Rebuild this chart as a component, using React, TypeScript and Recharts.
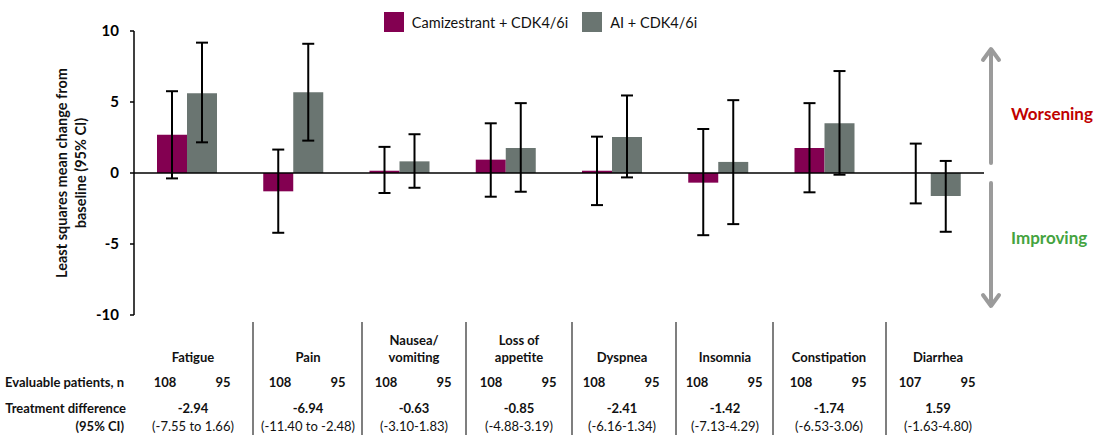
import React from "react";
import { BarChart, Bar, XAxis, YAxis, ErrorBar, ReferenceLine, Legend } from "recharts";

// symptom categories (EORTC QLQ-C30 symptom scales)
const categories = ["Fatigue", "Pain", "Nausea/vomiting", "Loss of appetite", "Dyspnea", "Insomnia", "Constipation", "Diarrhea"];
const categoryLines = [["Fatigue"], ["Pain"], ["Nausea/", "vomiting"], ["Loss of", "appetite"], ["Dyspnea"], ["Insomnia"], ["Constipation"], ["Diarrhea"]];

// Camizestrant + CDK4/6i
const camiMean = [2.7, -1.29, 0.16, 0.94, 0.16, -0.68, 1.76, 0.01];
const camiLow = [-0.38, -4.21, -1.41, -1.67, -2.26, -4.38, -1.36, -2.14];
const camiHigh = [5.76, 1.65, 1.84, 3.5, 2.56, 3.1, 4.92, 2.07];

// AI + CDK4/6i
const aiMean = [5.62, 5.69, 0.82, 1.76, 2.54, 0.78, 3.5, -1.62];
const aiLow = [2.16, 2.28, -1.04, -1.32, -0.31, -3.6, -0.12, -4.14];
const aiHigh = [9.18, 9.1, 2.73, 4.92, 5.46, 5.13, 7.18, 0.85];

// table rows
const nCami = [108, 108, 108, 108, 108, 108, 108, 107];
const nAi = [95, 95, 95, 95, 95, 95, 95, 95];
const diffValues = ["-2.94", "-6.94", "-0.63", "-0.85", "-2.41", "-1.42", "-1.74", "1.59"];
const diffCIs = ["(-7.55 to 1.66)", "(-11.40 to -2.48)", "(-3.10-1.83)", "(-4.88-3.19)", "(-6.16-1.34)", "(-7.13-4.29)", "(-6.53-3.06)", "(-1.63-4.80)"];

const yTicks = [-10, -5, 0, 5, 10];

const CAMI = "#830051";
const AI = "#6a7571";
const FONT = "Lato, 'Open Sans', sans-serif";

const data = categories.map((name, i) => ({
  name,
  cami: camiMean[i],
  ai: aiMean[i],
  camiErr: [camiMean[i] - camiLow[i], camiHigh[i] - camiMean[i]],
  aiErr: [aiMean[i] - aiLow[i], aiHigh[i] - aiMean[i]],
}));

// table layout (column centres and separators, px)
const colCenters = [193, 308, 414, 519, 622, 725, 829, 938];
const separators = [253, 362, 466, 572, 676, 773, 886];

const legendItems = [
  { label: "Camizestrant + CDK4/6i", color: CAMI },
  { label: "AI + CDK4/6i", color: AI },
];

function LegendContent() {
  return (
    <div style={{ display: "flex", justifyContent: "center", alignItems: "center", fontFamily: FONT, fontSize: 14.5, color: "#111" }}>
      {legendItems.map((it, i) => (
        <div key={it.label} style={{ display: "flex", alignItems: "center", marginLeft: i === 0 ? 0 : 14 }}>
          <span style={{ width: 20, height: 20, background: it.color, display: "inline-block", marginRight: 8 }} />
          <span>{it.label}</span>
        </div>
      ))}
    </div>
  );
}

export default function App() {
  return (
    <div style={{ position: "absolute", left: 0, top: 0, width: 1097, height: 435, background: "#fff", fontFamily: FONT }}>
      <BarChart width={1097} height={435} data={data} margin={{ top: 31, right: 113, bottom: 120, left: 0 }} barGap={0} barSize={30}>
        <XAxis dataKey="name" hide />
        <YAxis
          width={134}
          domain={[-10, 10]}
          ticks={yTicks}
          interval={0}
          axisLine={{ stroke: "#000", strokeWidth: 1.5 }}
          tickLine={{ stroke: "#000", strokeWidth: 1.5 }}
          tickSize={4}
          tickMargin={11}
          tick={{ fill: "#000", fontSize: 15, fontWeight: 700, fontFamily: FONT }}
        />
        <Legend layout="horizontal" verticalAlign="middle" align="center" wrapperStyle={{ top: 12, left: -8, width: 1097 }} content={<LegendContent />} />
        <Bar dataKey="cami" fill={CAMI} isAnimationActive={false}>
          <ErrorBar dataKey="camiErr" width={6} strokeWidth={2} stroke="#000" isAnimationActive={false} />
        </Bar>
        <Bar dataKey="ai" fill={AI} isAnimationActive={false}>
          <ErrorBar dataKey="aiErr" width={6} strokeWidth={2} stroke="#000" isAnimationActive={false} />
        </Bar>
        <ReferenceLine y={0} stroke="#000" strokeWidth={1.5} />
      </BarChart>

      <svg width={1097} height={435} style={{ position: "absolute", left: 0, top: 0, pointerEvents: "none" }}>
        {/* y axis title */}
        <g transform="translate(62,173) rotate(-90)" fontFamily={FONT} fontWeight={700} fontSize={14.5} fill="#111" textAnchor="middle">
          <text x={0} y={5}>Least squares mean change from</text>
          <text x={0} y={24}>baseline (95% CI)</text>
        </g>

        {/* direction arrows */}
        <g stroke="#9b9b9b" strokeWidth={4} fill="none" strokeLinecap="round" strokeLinejoin="round">
          <line x1={991} y1={163} x2={991} y2={50} />
          <polyline points="983,60 991,49 999,60" />
          <line x1={991} y1={183} x2={991} y2={305} />
          <polyline points="983,295 991,306 999,295" />
        </g>
        <text x={1011} y={120} fontFamily={FONT} fontWeight={700} fontSize={17} fill="#c00000">Worsening</text>
        <text x={1011} y={244} fontFamily={FONT} fontWeight={700} fontSize={17} fill="#44a340">Improving</text>

        {/* table */}
        {separators.map((x) => (
          <line key={x} x1={x} y1={322} x2={x} y2={435} stroke="#555" strokeWidth={1.5} />
        ))}
        <g fontFamily={FONT} fontSize={13} fill="#111">
          <text x={124} y={387} textAnchor="end" fontWeight={700}>Evaluable patients, n</text>
          <text x={126} y={413} textAnchor="end" fontWeight={700}>Treatment difference</text>
          <text x={124} y={431} textAnchor="end" fontWeight={700}>(95% CI)</text>
          {categoryLines.map((lines, i) => (
            <g key={i} textAnchor="middle" fontWeight={700}>
              {lines.map((ln, j) => (
                <text key={j} x={colCenters[i]} y={362 - (lines.length - 1 - j) * 17}>{ln}</text>
              ))}
            </g>
          ))}
          {nCami.map((n, i) => (
            <text key={"c" + i} x={colCenters[i] - 28} y={387} textAnchor="middle" fontWeight={700}>{n}</text>
          ))}
          {nAi.map((n, i) => (
            <text key={"a" + i} x={colCenters[i] + 30} y={387} textAnchor="middle" fontWeight={700}>{n}</text>
          ))}
          {diffValues.map((d, i) => (
            <text key={"d" + i} x={colCenters[i]} y={413} textAnchor="middle" fontWeight={700}>{d}</text>
          ))}
          {diffCIs.map((d, i) => (
            <text key={"ci" + i} x={colCenters[i]} y={431} textAnchor="middle">{d}</text>
          ))}
        </g>
      </svg>
    </div>
  );
}
